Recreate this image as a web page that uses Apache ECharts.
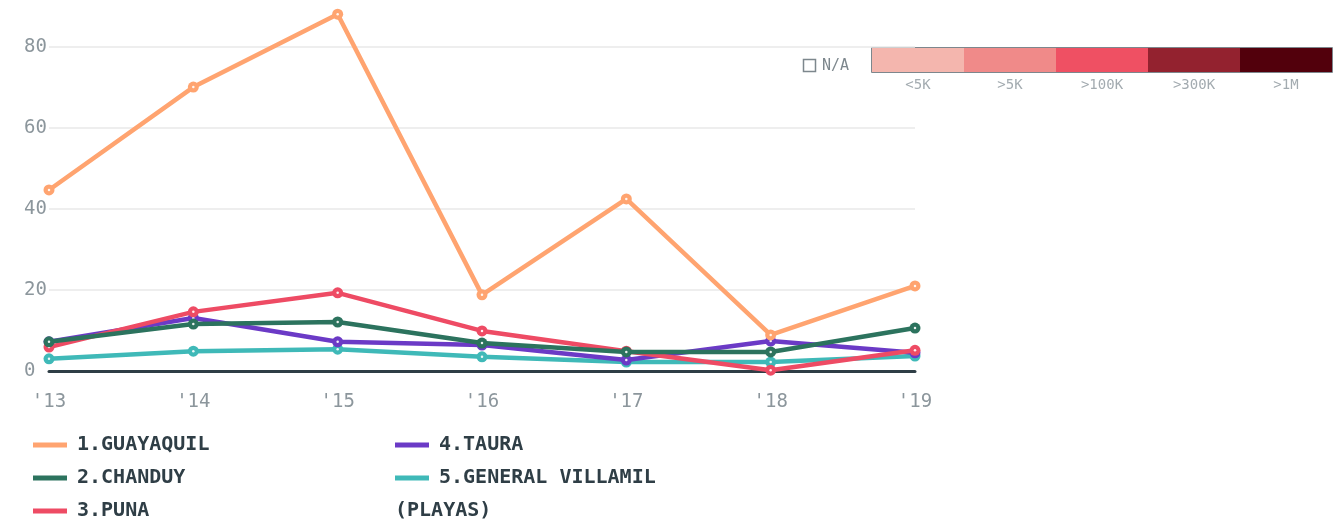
<!DOCTYPE html>
<html>
<head>
<meta charset="utf-8">
<script src="https://cdn.jsdelivr.net/npm/echarts@6/dist/echarts.min.js"></script>
<style>
html,body{margin:0;padding:0;background:#fff;}
#chart{width:1340px;height:526px;}
</style>
</head>
<body>
<div id="chart"></div>
<script>
const years = ["'13", "'14", "'15", "'16", "'17", "'18", "'19"];
const guayaquil = [44.7, 70.1, 88.1, 18.8, 42.5, 8.9, 21.0];
const chanduy = [7.2, 11.6, 12.1, 6.9, 4.7, 4.7, 10.6];
const puna = [5.9, 14.6, 19.3, 9.9, 4.9, 0.2, 5.1];
const taura = [7.2, 13.1, 7.2, 6.4, 2.7, 7.4, 4.5];
const villamil = [3.0, 4.9, 5.4, 3.5, 2.2, 2.2, 3.7];
const seriesNames = ["1.GUAYAQUIL", "2.CHANDUY", "3.PUNA", "4.TAURA", "5.GENERAL VILLAMIL"];
const seriesColors = ["#ffa470", "#2c735e", "#ee4b64", "#6b3ac6", "#3fb9b8"];
const scaleLabels = ["<5K", ">5K", ">100K", ">300K", ">1M"];
const scaleColors = ["#f4b6ae", "#f08a89", "#ef5063", "#93222f", "#52000c"];

const allData = [guayaquil, chanduy, puna, taura, villamil];
const series = [];
for (let i = allData.length - 1; i >= 0; i--) {
  const k = allData.length - i;
  series.push({
    name: seriesNames[i],
    type: 'line',
    data: allData[i],
    color: seriesColors[i],
    symbol: 'circle',
    symbolSize: 11,
    showSymbol: true,
    lineStyle: { width: 4.5, color: seriesColors[i] },
    itemStyle: { color: seriesColors[i], borderWidth: 0 },
    emphasis: { disabled: true },
    z: 2 + 2 * k
  });
  series.push({
    name: seriesNames[i] + ' dot',
    type: 'scatter',
    data: allData[i],
    symbol: 'circle',
    symbolSize: 2.5,
    itemStyle: { color: '#ffffff', opacity: 0.9 },
    emphasis: { disabled: true },
    silent: true,
    z: 3 + 2 * k
  });
}

const graphics = [];
const barX = 872, barY = 48, segW = 92, barH = 24;
scaleColors.forEach((c, i) => {
  graphics.push({ type: 'rect', x: barX + i * segW, y: barY, shape: { width: segW, height: barH }, style: { fill: c } });
  graphics.push({ type: 'text', x: barX + i * segW + segW / 2, y: 85, style: { text: scaleLabels[i], fill: '#a3abb0', font: '14px "DejaVu Sans Mono"', align: 'center', verticalAlign: 'middle' } });
});
graphics.push({ type: 'rect', x: barX - 0.5, y: barY - 0.5, shape: { width: segW * 5 + 1, height: barH + 1 }, style: { fill: null, stroke: '#7d878d', lineWidth: 1 } });
graphics.push({ type: 'rect', x: 803.5, y: 59.5, shape: { width: 12, height: 12 }, style: { fill: '#fff', stroke: '#7d878d', lineWidth: 1.5 } });
graphics.push({ type: 'text', x: 822, y: 66, style: { text: 'N/A', fill: '#7d878d', font: '15px "DejaVu Sans Mono"', verticalAlign: 'middle' } });
graphics.push({ type: 'text', x: 395, y: 511, style: { text: '(PLAYAS)', fill: '#2f3e46', font: 'bold 20px "DejaVu Sans Mono"', verticalAlign: 'middle' } });

const legendText = { color: '#2f3e46', fontFamily: 'DejaVu Sans Mono', fontWeight: 'bold', fontSize: 20, lineHeight: 20, padding: [0, 0, 0, 5] };
const legendPos = [[33, 435], [33, 468], [33, 501], [395, 435], [395, 468]];
const legends = seriesNames.map((n, i) => ({
  data: [{ name: n, itemStyle: { color: seriesColors[i], borderWidth: 0 } }],
  left: legendPos[i][0], top: legendPos[i][1], padding: 0,
  icon: 'rect', itemWidth: 34, itemHeight: 5,
  textStyle: legendText, selectedMode: false
}));

const chart = echarts.init(document.getElementById('chart'), null, { renderer: 'canvas' });
chart.setOption({
  animation: false,
  backgroundColor: '#fff',
  grid: { left: 49, right: 425, top: -34, bottom: 155, containLabel: false, outerBoundsMode: 'none' },
  xAxis: {
    type: 'category',
    data: years,
    boundaryGap: false,
    axisLine: { show: true, onZero: true, lineStyle: { color: '#2f3e46', width: 3 } },
    axisTick: { show: false },
    axisLabel: { color: '#8c969c', fontFamily: 'DejaVu Sans Mono', fontSize: 19, margin: 22 },
    splitLine: { show: false }
  },
  yAxis: {
    type: 'value',
    min: 0, max: 100, interval: 20,
    axisLine: { show: false },
    axisTick: { show: false },
    axisLabel: { color: '#8c969c', fontFamily: 'DejaVu Sans Mono', fontSize: 19, margin: 25, align: 'left' },
    splitLine: { show: true, lineStyle: { color: '#e8e8e8', width: 1.5 } }
  },
  legend: legends,
  graphic: graphics,
  series: series
});
</script>
</body>
</html>
